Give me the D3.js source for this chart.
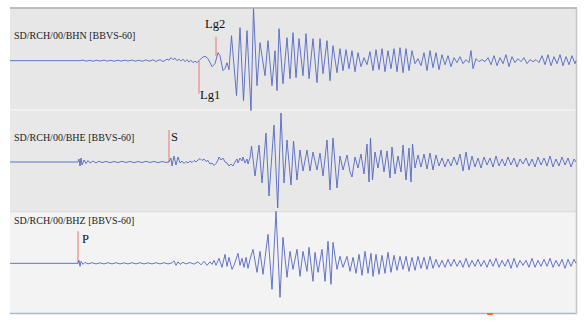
<!DOCTYPE html>
<html>
<head>
<meta charset="utf-8">
<script src="https://cdn.jsdelivr.net/npm/d3@7"></script>
<style>
  body { margin: 0; background: #fff; }
  svg { display: block; }
</style>
</head>
<body>
<svg id="chart"></svg>
<script>
let w = 584
let h = 324

// channel names, one per panel
let channels = ["SD/RCH/00/BHN [BBVS-60]", "SD/RCH/00/BHE [BBVS-60]", "SD/RCH/00/BHZ [BBVS-60]"]
let panelFill = ["#e7e7e7", "#e8e8e8", "#f3f3f3"]

// traces: [time, amplitude]
let bhn = [[0,0],[70,0],
  [73,0.6],[76,-0.5],[80,0.4],[83,-0.6],[87,0.5],[90,-0.4],[94,0.6],[97,-0.5],[101,0.4],[104,-0.6],[108,0.5],[111,-0.5],[115,0.6],[118,-0.4],[122,0.7],[125,-0.6],[129,0.5],[132,-0.7],[136,0.8],[139,-0.6],[143,0.9],[146,-0.8],[150,1],[153,-0.9],
  [157,1.5],[159,0.5],[161,3],[163,1],[165,2.5],[167,0],[169,1.5],[171,-0.5],[173,1.5],[175,-1],[177,1],[179,-1.5],[181,0.5],[183,-2],[185,-0.5],[187,-2],[189,0],
  [192,3],[195,4.5],[198,2],[202,-6],[205,-3],[208,8],[210,5],[213,-10],[215,-8],[217,-2],[219,-9],
  [221.5,25],[226.5,-35],[230,33],[233.5,-40],[237,30],[241,-50],[243.5,52],[247,-25],[250,18],[255,-15],[258,20],[262,-25],[265,10],[267,-30],[269,32],[273,-23],[277,23],[280,-18],[283,28],[286,-17],[289,22],[293,-15],[296,27],[299,-18],[303,22],[307,-22],[310,22],[313,-13],[317,20],[320,-20],[323,15],[327,-12],
  [330,12],[333,-10],[336,11],[339,-8],[342,10],[345,-11],[348,8],[351,-6],[354,3],[357,-4],[360,9],[363,-10],[366,11],[369,-9],[372,12],[375,-11],[378,10],[381,-8],[384,12],[387,-11],[390,13],[393,-12],[396,12],[399,-10],[402,10],[405,-3],[408,2],[411,-5],[414,8],[417,-10],[420,10],[423,-7],[426,8],[429,-9],[432,6],[435,-4],[438,5],[441,-6],[444,3],[447,-2],[450,4],[453,-3],[456,1],[459,-2],[461,10],[463,-8],[466,2],[469,-1],[472,1],[475,-1],[478,3],[481,-4],[484,5],[487,-5],[490,3],[493,-3],[496,6],[499,-6],[502,4],[505,-2],[508,2],[511,-1],[514,3],[517,-3],[520,1],[523,-1],[526,1],[529,-2],[532,5],[535,-4],[538,6],[541,-5],[544,4],[547,-3],[550,6],[553,-5],[556,4],[559,-4],[562,5],[565,-3],[566,0]]

let bhe = [[0,0],[68,0],[69,3],[70,-4],[71,4],[72,-3],[74,2],[76,-1.5],[78,1.5],[80,-1],[83,1],[86,-1],[89,0.8],[92,-0.6],
  [96,0.6],[100,-0.7],[104,0.5],[108,-0.6],[112,0.7],[116,-0.5],[120,0.6],[124,-0.7],[128,0.5],[132,-0.6],[136,0.7],[140,-0.5],[144,0.6],[148,-0.7],[152,0.5],[156,-0.4],[159,0],
  [161,4],[162,-4],[164,6],[166,-3],[168,5],
  [170,-1],[172,1],[174,-1.5],[176,0.5],[178,-1],[180,1],[182,-0.5],[184,1.5],[186,0],[188,2],[190,3.5],[192,1.5],[194,3],[196,0.5],[198,1.5],[200,-2],[202,-1],[204,-3.5],[206,-1.5],[208,2],[209,5],[211,2],[213,4],[215,0],[217,-1],[219,-4],[221,-2],[223,-4],[225,0],[227,3],[228,-1],[230,4],[232,1],[233,5],[235,-1],[237,3],[238,-2],[240,4],
  [241.5,16],[245,-14],[249,17],[252,-21],[256,29],[259,-34],[264,37],[267.7,-46],[271,49],[274,-21],[277,22],[281,-23],[283.5,21],[287,-18],[290,12],[293,-9],[297,12],[300,-9],[303,10],[307,-8],[310,9],[313,-14],[317,22],[320,-28],[323,24],[327,-26],[330,6],[333,-8],[337,7],[340,-10],[342,-15],[345,5],[348,-6],[351,8],[354,-12],[357,18],[359,-20],[360.5,24],[362.5,-18],[365,10],[368,-6],[371,12],[374,-10],[377,11],[380,-16],[382,15],[385,-12],[388,6],[391,-10],[393,17],[396,-18],[399,14],[401,-20],[402.5,18],[405,-6],[408,7],[411,-5],[414,8],[417,-7],[420,9],[423,-8],[426,7],[429,-4],[432,4],[435,-5],[438,3],[441,-4],[444,5],[447,-3],[450,8],[453,-9],[456,10],[459,-8],[462,6],[465,-5],[468,4],[471,-6],[474,5],[477,-3],[480,4],[483,-5],[486,6],[489,-4],[492,3],[495,-4],[498,5],[501,-3],[504,4],[507,-5],[510,3],[513,-2],[516,4],[519,-4],[522,3],[525,-5],[528,5],[531,-3],[534,4],[537,-4],[540,6],[543,-5],[546,3],[549,-4],[552,5],[555,-3],[558,4],[561,-5],[564,3],[566,0]]

let bhz = [[0,0],[68,0],[69,3],[70,-3],[71,2],[73,-1],[75,1],[78,-0.5],[82,0.6],[86,-0.6],[90,0.5],[94,-0.6],[98,0.6],[102,-0.5],[106,0.6],[110,-0.6],[114,0.5],[118,-0.6],[122,0.6],[126,-0.5],[130,0.6],[134,-0.6],[138,0.5],[142,-0.6],[146,0.6],[150,-0.5],[154,0.6],[158,-0.6],[162,0.5],[164,2.5],[166,-2],[168,1.5],[170,-1],[173,1],[176,-0.6],[180,0.8],[184,-0.8],[188,1.5],[191,-1.5],[194,2],[197,-2],[200,1.5],[202,-1],
  [204,3],[206,-2],[209,5],[212,-4],[215,9],[217,-3],[219,6],[222,-6],[224,-2],[226,4],[228,10],[230,-2],[232,5],[234,-4],[236,6],[238,-5],[240,4],
  [243,14],[247,-9],[250,12],[253,-11],[258,29],[262,-26],[266,52],[270,-34],[273,26],[277,-14],[280,12],[283,-6],[287,14],[290,-13],[293,12],[297,-8],[299,16],[303,-18],[305,11],[308,-9],[312,14],[315,-18],[318,22],[321,-21],[323,21],[327,-6],[330,7],[333,-4],[337,7],[340,-8],[343,6],[346,-10],[349,9],[352,-12],[355,12],[358,-10],[361,10],[363,-13],[366,9],[369,-11],[372,8],[375,-10],[378,11],[381,-9],[384,8],[387,-7],[390,7],[393,-6],[396,7],[399,-8],[402,6],[405,-7],[408,7],[411,-5],[414,6],[417,-6],[420,7],[423,-5],[426,4],[429,-4],[432,3],[435,-4],[438,4],[441,-3],[444,4],[447,-3],[450,3],[453,-4],[456,5],[459,-4],[462,3],[465,-3],[468,4],[471,-3],[474,3],[477,-4],[480,4],[483,-3],[486,5],[489,-4],[492,3],[495,-3],[498,4],[501,-5],[504,5],[507,-4],[510,3],[513,-2],[516,3],[519,-4],[522,5],[525,-4],[528,3],[531,-3],[534,4],[537,-3],[540,5],[543,-4],[546,3],[549,-3],[552,4],[555,-5],[558,4],[561,-3],[564,4],[566,0]]

let traces = [bhn, bhe, bhz]

// phase picks
let phaseNames = ["Lg1", "Lg2", "S", "P"]
let phasePanel = [0, 0, 1, 2]
let phaseTime = [189, 206, 159, 68]

let svg = d3.select('#chart').attr('width', w).attr('height', h)

let x = d3.scaleLinear().domain([0, 566]).range([10, 576])
let band = d3.scaleBand().domain(d3.range(3)).range([9, 313])

let yFor = (i) => {
  let mid = band(i) + band.bandwidth() / 2 + 1
  return d3.scaleLinear().domain([-50, 50]).range([mid + 50, mid - 50])
}

// panels
svg.selectAll('rect.panel')
  .data(channels)
  .join('rect')
  .attr('class', 'panel')
  .attr('x', x(0))
  .attr('y', (d, i) => band(i))
  .attr('width', x(566) - x(0))
  .attr('height', band.bandwidth())
  .attr('fill', (d, i) => panelFill[i])

// separators
svg.append('line').attr('x1', x(0)).attr('x2', x(566))
  .attr('y1', band(1) - 0.5).attr('y2', band(1) - 0.5)
  .attr('stroke', '#f2f2f2').attr('stroke-width', 1.5)
svg.append('line').attr('x1', x(0)).attr('x2', x(566))
  .attr('y1', band(2)).attr('y2', band(2))
  .attr('stroke', '#dadada').attr('stroke-width', 1)

// frame
svg.append('line').attr('x1', x(0)).attr('x2', x(566) + 1)
  .attr('y1', 8).attr('y2', 8).attr('stroke', '#bcbcbc').attr('stroke-width', 2)
svg.append('line').attr('x1', x(0)).attr('x2', x(566) + 1)
  .attr('y1', 313.5).attr('y2', 313.5).attr('stroke', '#aab6ca').attr('stroke-width', 1.5)
svg.append('line').attr('x1', x(566) + 0.5).attr('x2', x(566) + 0.5)
  .attr('y1', 8).attr('y2', 314).attr('stroke', '#c6c6c6').attr('stroke-width', 1.5)

// channel labels
svg.selectAll('text.chan')
  .data(channels)
  .join('text')
  .attr('class', 'chan')
  .attr('x', 14)
  .attr('y', (d, i) => [39, 141, 224][i])
  .attr('font-family', 'Liberation Serif, Times New Roman, serif')
  .attr('font-size', 10)
  .attr('fill', '#222')
  .text(d => d)

// phase markers
let markerFrom = [0, 5, 0, 0]
let markerTo = [-33, 24, 32, 32]
let labelOffX = [1, -11, 2, 4]
let labelY = [99, 28, 141, 243]

phaseNames.forEach((name, k) => {
  let y = yFor(phasePanel[k])
  svg.append('line')
    .attr('x1', x(phaseTime[k])).attr('x2', x(phaseTime[k]))
    .attr('y1', y(markerFrom[k])).attr('y2', y(markerTo[k]))
    .attr('stroke', '#ee8c8c').attr('stroke-width', 1.3)
  svg.append('text')
    .attr('x', x(phaseTime[k]) + labelOffX[k])
    .attr('y', labelY[k])
    .attr('font-family', 'Liberation Serif, Times New Roman, serif')
    .attr('font-size', 12.5)
    .attr('fill', '#111')
    .text(name)
})

// traces
traces.forEach((tr, i) => {
  let y = yFor(i)
  let line = d3.line().x(d => x(d[0])).y(d => y(d[1]))
  svg.append('path')
    .datum(tr)
    .attr('d', line)
    .attr('fill', 'none')
    .attr('stroke', '#5467c2')
    .attr('stroke-width', 0.9)
    .attr('stroke-linejoin', 'round')
})

// small orange tick on the bottom border
svg.append('line')
  .attr('x1', x(477)).attr('x2', x(483))
  .attr('y1', 314).attr('y2', 314)
  .attr('stroke', '#ff6a3a').attr('stroke-width', 2)
</script>
</body>
</html>
